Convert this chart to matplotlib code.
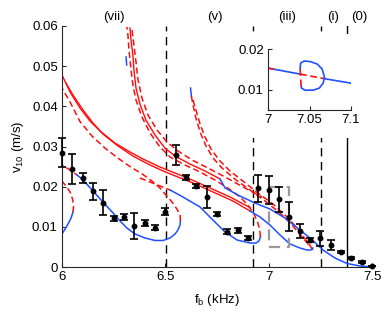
import matplotlib
matplotlib.use("Agg")
import matplotlib.pyplot as plt
import numpy as np

plt.rcParams['font.family'] = ['Liberation Sans', 'DejaVu Sans']
plt.rcParams['font.size'] = 9.5

# ---------------- data ----------------
f_meas = [6.00, 6.05, 6.10, 6.15, 6.20, 6.25, 6.30, 6.35, 6.40, 6.45, 6.50,
          6.55, 6.60, 6.65, 6.70, 6.75, 6.80, 6.85, 6.90, 6.95, 7.00,
          7.05, 7.10, 7.15, 7.20, 7.25, 7.30, 7.35, 7.40, 7.45, 7.50]
v_meas = [0.0285, 0.0244, 0.0221, 0.0188, 0.0160, 0.0121, 0.0124, 0.0102, 0.0109, 0.0098, 0.0138,
          0.0279, 0.0223, 0.0202, 0.0175, 0.0131, 0.0088, 0.0091, 0.0073, 0.0196, 0.0192,
          0.0169, 0.0125, 0.0090, 0.0067, 0.0071, 0.0055, 0.0038, 0.0022, 0.0012, 0.0003]
v_err = [0.0037, 0.0037, 0.0012, 0.0021, 0.0031, 0.0007, 0.0007, 0.0032, 0.0007, 0.0006, 0.0008,
         0.0025, 0.0006, 0.0005, 0.0027, 0.0005, 0.0006, 0.0006, 0.0005, 0.0033, 0.0035,
         0.0031, 0.0036, 0.0018, 0.0004, 0.0019, 0.0013, 0.0003, 0.0003, 0.0003, 0.0]

# curve A (small fold at left edge)
A_blue_f = [6.000, 6.015, 6.029, 6.044, 6.053]
A_blue_v = [0.00822, 0.00946, 0.01070, 0.01220, 0.01369]
A_red_f = [6.053, 6.056, 6.051, 6.039, 6.019, 6.000, 5.981]
A_red_v = [0.01369, 0.01519, 0.01693, 0.01867, 0.02016, 0.02141, 0.02240]

# curve B (vii)
B_redL_f = [5.981, 6.000, 6.039, 6.073]
B_redL_v = [0.02589, 0.02539, 0.02415, 0.02290]
B_blue_f = [6.073, 6.102, 6.150, 6.198, 6.247, 6.281, 6.314, 6.353, 6.402, 6.450,
            6.489, 6.523, 6.547, 6.561, 6.571, 6.573]
B_blue_v = [0.02290, 0.02166, 0.01892, 0.01618, 0.01344, 0.01145, 0.00971, 0.00822, 0.00722, 0.00660,
            0.00660, 0.00722, 0.00822, 0.00921, 0.01046, 0.01145]
B_redU_f = [6.573, 6.571, 6.556, 6.532, 6.503, 6.474, 6.435, 6.387, 6.329, 6.271,
            6.208, 6.145, 6.087, 6.039, 6.000, 5.981]
B_redU_v = [0.01145, 0.01294, 0.01444, 0.01618, 0.01792, 0.01967, 0.02141, 0.02320, 0.02500, 0.02710,
            0.02960, 0.03260, 0.03620, 0.04108, 0.04456, 0.04655]

# solid red lines from the left edge
L1_f = [6.0, 6.039, 6.087, 6.135, 6.184, 6.256, 6.329, 6.402, 6.474, 6.547, 6.619, 6.716, 6.813, 6.910]
L1_v = [0.04780, 0.04356, 0.03958, 0.03635, 0.03386, 0.03087, 0.02863, 0.02664, 0.02489, 0.02340,
        0.02191, 0.01967, 0.01743, 0.01480]
L2_f = [6.019, 6.053, 6.102, 6.150, 6.198, 6.271, 6.343, 6.416, 6.489, 6.561, 6.634, 6.731, 6.827, 6.910]
L2_v = [0.04580, 0.04282, 0.03908, 0.03585, 0.03311, 0.03012, 0.02763, 0.02564, 0.02390, 0.02240,
        0.02091, 0.01867, 0.01643, 0.01394]

# curve C (v)
C_redL_f = [6.377, 6.450, 6.523]
C_redL_v = [0.02216, 0.02066, 0.01917]
C_blue_f = [6.523, 6.585, 6.668, 6.730, 6.789, 6.847, 6.910, 6.939, 6.953, 6.960]
C_blue_v = [0.01917, 0.01743, 0.01494, 0.01170, 0.00871, 0.00672, 0.00597, 0.00597, 0.00647, 0.00747]
C_redU_f = [6.960, 6.957, 6.948, 6.929, 6.900, 6.861, 6.803, 6.740, 6.668, 6.595,
            6.523, 6.474, 6.426, 6.387, 6.358, 6.343, 6.334, 6.324, 6.319, 6.314]
C_redU_v = [0.00747, 0.00921, 0.01095, 0.01319, 0.01543, 0.01743, 0.01967, 0.02166, 0.02365, 0.02539,
            0.02738, 0.02987, 0.03336, 0.03734, 0.04157, 0.04531, 0.04904, 0.05402, 0.05775, 0.05975]
C_tip_f = [6.310, 6.313]
C_tip_v = [0.0523, 0.0503]
F2b_f = [6.329, 6.334, 6.343, 6.348, 6.358, 6.377, 6.406, 6.450, 6.498, 6.547, 6.619, 6.692, 6.765]
F2b_v = [0.05950, 0.05651, 0.05277, 0.04904, 0.04456, 0.04058, 0.03659, 0.03286, 0.02962, 0.02763,
         0.02564, 0.02390, 0.02191]
F2c_f = [6.339, 6.348, 6.358, 6.368, 6.387, 6.416, 6.460, 6.508, 6.561, 6.629, 6.706, 6.789, 6.885, 6.968]
F2c_v = [0.05900, 0.05526, 0.05103, 0.04655, 0.04207, 0.03784, 0.03410, 0.03112, 0.02888, 0.02664,
         0.02465, 0.02240, 0.01967, 0.01743]

# curve E (iii)
E_tip_f = [6.622, 6.626]
E_tip_v = [0.04456, 0.04257]
E1_f = [6.626, 6.634, 6.648, 6.668, 6.697, 6.731, 6.774, 6.842, 6.910, 6.982, 7.055, 7.113, 7.166, 7.200, 7.214]
E1_v = [0.04257, 0.04033, 0.03709, 0.03361, 0.03012, 0.02713, 0.02465, 0.02166, 0.01917, 0.01643,
        0.01344, 0.01046, 0.00722, 0.00523, 0.00423]
E2_f = [6.634, 6.648, 6.668, 6.692, 6.721, 6.760, 6.813, 6.881, 6.948, 7.021, 7.089, 7.142, 7.180, 7.205]
E2_v = [0.04157, 0.03908, 0.03560, 0.03236, 0.02938, 0.02664, 0.02390, 0.02116, 0.01842, 0.01568,
        0.01245, 0.00946, 0.00672, 0.00498]
E_blue_f = [6.910, 6.958, 7.006, 7.055, 7.103, 7.151, 7.185, 7.205, 7.214]
E_blue_v = [0.01394, 0.01245, 0.01046, 0.00797, 0.00573, 0.00473, 0.00423, 0.00423, 0.00473]

# curve D (long tail to 7.5)
D_blue_f = [6.765, 6.789, 6.861, 6.934, 7.006, 7.079, 7.151, 7.200, 7.263, 7.321, 7.379, 7.442, 7.500]
D_blue_v = [0.02191, 0.01967, 0.01767, 0.01593, 0.01444, 0.01220, 0.00921, 0.00722, 0.00423, 0.00224,
            0.00087, 0.00025, 0.0]

# regime boundaries
f_dashed = [6.503, 6.923, 7.252]
f_solid = [7.378]
reg_labels = ['(vii)', '(v)', '(iii)', '(i)', '(0)']
reg_pos = [6.25, 6.74, 7.09, 7.31, 7.44]

# inset
I_line_f = [7.0, 7.0387]
I_line_v = [0.0153, 0.01383]
I_redstart_f = [7.0, 7.006]
I_redstart_v = [0.0153, 0.01508]
I_mid_f = [7.0387, 7.0677]
I_mid_v = [0.01383, 0.01271]
I_right_f = [7.0677, 7.1]
I_right_v = [0.01271, 0.0116]
I_loop_f = [7.0387, 7.0393, 7.0435, 7.0508, 7.0593, 7.0653, 7.0681, 7.0665, 7.0617, 7.0544, 7.0447, 7.0405, 7.0399]
I_loop_v = [0.01506, 0.01654, 0.01704, 0.01691, 0.01630, 0.01506, 0.01308, 0.01160, 0.01037, 0.00987, 0.00987, 0.01037, 0.01086]
I_loopred_f = [7.0399, 7.0393, 7.0387]
I_loopred_v = [0.01086, 0.01308, 0.01506]

BLUE = '#1f4fff'
RED = '#ff0d0d'
DASH = (0, (4, 2.2))

fig = plt.figure(figsize=(3.92, 3.12), dpi=100)
ax = fig.add_axes([62/392, 1-267/312, 310/392, 241/312])

def red_dash(a, f, v, lw=1.1):
    a.plot(f, v, color=RED, lw=lw, linestyle=DASH)

def red_solid(a, f, v, lw=1.1):
    a.plot(f, v, color=RED, lw=lw)

def blue(a, f, v, lw=1.1):
    a.plot(f, v, color=BLUE, lw=lw)

for fd in f_dashed:
    ax.axvline(fd, color='k', lw=1.0, linestyle=(0, (6, 4)), zorder=1)
for fs in f_solid:
    ax.axvline(fs, color='k', lw=1.0, zorder=1)

blue(ax, A_blue_f, A_blue_v)
red_dash(ax, A_red_f, A_red_v)
red_dash(ax, B_redL_f, B_redL_v)
blue(ax, B_blue_f, B_blue_v)
red_dash(ax, B_redU_f, B_redU_v)
red_solid(ax, L1_f, L1_v, lw=1.0)
red_solid(ax, L2_f, L2_v, lw=1.0)
red_dash(ax, C_redL_f, C_redL_v)
blue(ax, C_blue_f, C_blue_v)
red_dash(ax, C_redU_f, C_redU_v)
blue(ax, C_tip_f, C_tip_v)
red_solid(ax, F2b_f, F2b_v, lw=1.0)
red_dash(ax, F2c_f, F2c_v)
blue(ax, E_tip_f, E_tip_v)
red_dash(ax, E1_f, E1_v)
red_dash(ax, E2_f, E2_v)
blue(ax, E_blue_f, E_blue_v)
blue(ax, D_blue_f, D_blue_v)

# gray zoom box
ax.plot([7.0, 7.1, 7.1, 7.0, 7.0], [0.005, 0.005, 0.02, 0.02, 0.005],
        color='#999999', lw=1.6, linestyle=(0, (5, 3)), zorder=4)

ax.errorbar(f_meas, v_meas, yerr=v_err, fmt='o', color='k', ms=3.2, lw=1.2,
            capsize=3, capthick=1.2, zorder=5, clip_on=False)

ax.set_xlim(6, 7.5)
ax.set_ylim(0, 0.06)
ax.set_xticks([6, 6.5, 7, 7.5])
ax.set_xticklabels(['6', '6.5', '7', '7.5'])
ax.set_yticks([0, 0.01, 0.02, 0.03, 0.04, 0.05, 0.06])
ax.set_yticklabels(['0', '0.01', '0.02', '0.03', '0.04', '0.05', '0.06'])
ax.tick_params(direction='in', length=3, width=0.8, colors='#262626', labelcolor='k', pad=3)
for s in ['top', 'right']:
    ax.spines[s].set_visible(False)
for s in ['left', 'bottom']:
    ax.spines[s].set_color('#262626')
    ax.spines[s].set_linewidth(0.8)
ax.set_xlabel(r'$\mathregular{f_b}$ (kHz)', labelpad=6)
ax.set_ylabel(r'$\mathregular{v_{10}}$ (m/s)', labelpad=4)

for lab, p in zip(reg_labels, reg_pos):
    ax.text(p, 1.012, lab, transform=ax.get_xaxis_transform(), ha='center', va='bottom')

# white cover behind inset
cov = fig.add_axes([230/392, 1-138/312, 142/392, 104/312])
cov.set_facecolor('white')
cov.set_xticks([]); cov.set_yticks([])
for s in cov.spines.values():
    s.set_visible(False)

ins = fig.add_axes([268/392, 1-110/312, 83/392, 61/312])
blue(ins, I_line_f, I_line_v, lw=1.2)
red_solid(ins, I_redstart_f, I_redstart_v, lw=1.2)
red_dash(ins, I_mid_f, I_mid_v, lw=1.2)
blue(ins, I_right_f, I_right_v, lw=1.2)
blue(ins, I_loop_f, I_loop_v, lw=1.2)
red_dash(ins, I_loopred_f, I_loopred_v, lw=1.2)
ins.set_xlim(7.0, 7.1)
ins.set_ylim(0.005, 0.02)
ins.set_xticks([7.0, 7.05, 7.1])
ins.set_xticklabels(['7', '7.05', '7.1'])
ins.set_yticks([0.01, 0.02])
ins.set_yticklabels(['0.01', '0.02'])
ins.tick_params(direction='in', length=3, width=0.8, colors='#262626', labelcolor='k', pad=3)
for s in ['top', 'right']:
    ins.spines[s].set_visible(False)
for s in ['left', 'bottom']:
    ins.spines[s].set_color('#262626')
    ins.spines[s].set_linewidth(0.8)

fig.savefig('out.png', dpi=100)
